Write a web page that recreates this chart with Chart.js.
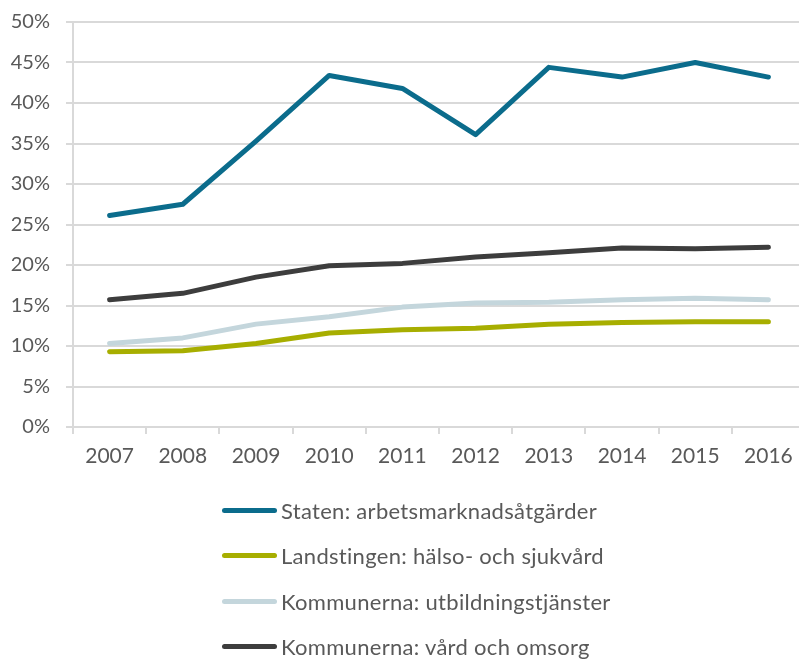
<!DOCTYPE html>
<html>
<head>
<meta charset="utf-8">
<script src="https://cdn.jsdelivr.net/npm/chart.js@4/dist/chart.umd.min.js"></script>
<style>
  html, body { margin: 0; padding: 0; background: #fff; overflow: hidden; }
  #wrap { position: relative; width: 799px; height: 660px; overflow: hidden; }
  #chartBox { position: absolute; left: 0; top: 0; width: 805px; height: 475px; }
  #legend { position: absolute; left: 0; top: 0; width: 799px; height: 660px; pointer-events: none; }
  .item { position: absolute; left: 222px; height: 30px; display: flex; align-items: center;
          font-family: Lato, "Open Sans", sans-serif; font-size: 22px; letter-spacing: 0.3px;
          color: #595959; white-space: nowrap; }
  .swatch { width: 55px; height: 5px; border-radius: 3px; margin-right: 4px; }
</style>
</head>
<body>
<div id="wrap">
  <div id="chartBox"><canvas id="c"></canvas></div>
  <div id="legend"></div>
</div>
<script>
const years = ['2007','2008','2009','2010','2011','2012','2013','2014','2015','2016'];
const seriesNames = [
  'Staten: arbetsmarknadsåtgärder',
  'Landstingen: hälso- och sjukvård',
  'Kommunerna: utbildningstjänster',
  'Kommunerna: vård och omsorg'
];
const staten      = [26.1, 27.5, 35.3, 43.4, 41.8, 36.1, 44.4, 43.2, 45.0, 43.2];
const landstingen = [9.3, 9.4, 10.3, 11.6, 12.0, 12.2, 12.7, 12.9, 13.0, 13.0];
const utbildning  = [10.3, 11.0, 12.7, 13.6, 14.8, 15.3, 15.4, 15.7, 15.9, 15.7];
const omsorg      = [15.7, 16.5, 18.5, 19.9, 20.2, 21.0, 21.5, 22.1, 22.0, 22.2];
const yTicks = [0, 5, 10, 15, 20, 25, 30, 35, 40, 45, 50];

const colors = ['#0b6c8c', '#a7ae00', '#c4d6dc', '#3d3d3d'];
const values = [staten, landstingen, utbildning, omsorg];

const datasets = values.map((v, i) => ({
  label: seriesNames[i],
  data: v,
  borderColor: colors[i],
  backgroundColor: colors[i],
  borderWidth: 5,
  pointRadius: 0,
  tension: 0,
  fill: false,
  borderCapStyle: 'round',
  borderJoinStyle: 'round'
}));

const gridColor = '#d9d9d9';

new Chart(document.getElementById('c'), {
  type: 'line',
  data: { labels: years, datasets: datasets },
  options: {
    responsive: true,
    maintainAspectRatio: false,
    animation: false,
    layout: { padding: { top: 22, right: 0, bottom: 0, left: 0 } },
    plugins: { legend: { display: false }, tooltip: { enabled: false } },
    scales: {
      x: {
        offset: true,
        grid: { offset: true, drawOnChartArea: false, color: gridColor, lineWidth: 2, tickLength: 7 },
        border: { display: true, color: gridColor, width: 2 },
        ticks: { font: { family: 'Lato, "Open Sans", sans-serif', size: 21 }, color: '#595959', padding: 10, maxRotation: 0 },
        afterFit: (s) => { s.height = 48; s.paddingLeft = 0; s.paddingRight = 0; }
      },
      y: {
        min: 0, max: 50,
        afterBuildTicks: (s) => { s.ticks = yTicks.map(v => ({ value: v })); },
        grid: { color: gridColor, lineWidth: 2, tickLength: 7 },
        border: { display: true, color: gridColor, width: 2 },
        ticks: { font: { family: 'Lato, "Open Sans", sans-serif', size: 20 }, color: '#595959', padding: 16, callback: (v) => v + '%' },
        afterFit: (s) => { s.width = 73; s.paddingTop = 0; s.paddingBottom = 0; }
      }
    }
  }
});

const legendEl = document.getElementById('legend');
const rowsY = [510, 555, 601, 646];
seriesNames.forEach((name, i) => {
  const it = document.createElement('div');
  it.className = 'item';
  it.style.top = (rowsY[i] - 15) + 'px';
  const sw = document.createElement('div');
  sw.className = 'swatch';
  sw.style.background = colors[i];
  const tx = document.createElement('span');
  tx.textContent = name;
  it.appendChild(sw);
  it.appendChild(tx);
  legendEl.appendChild(it);
});
</script>
</body>
</html>
